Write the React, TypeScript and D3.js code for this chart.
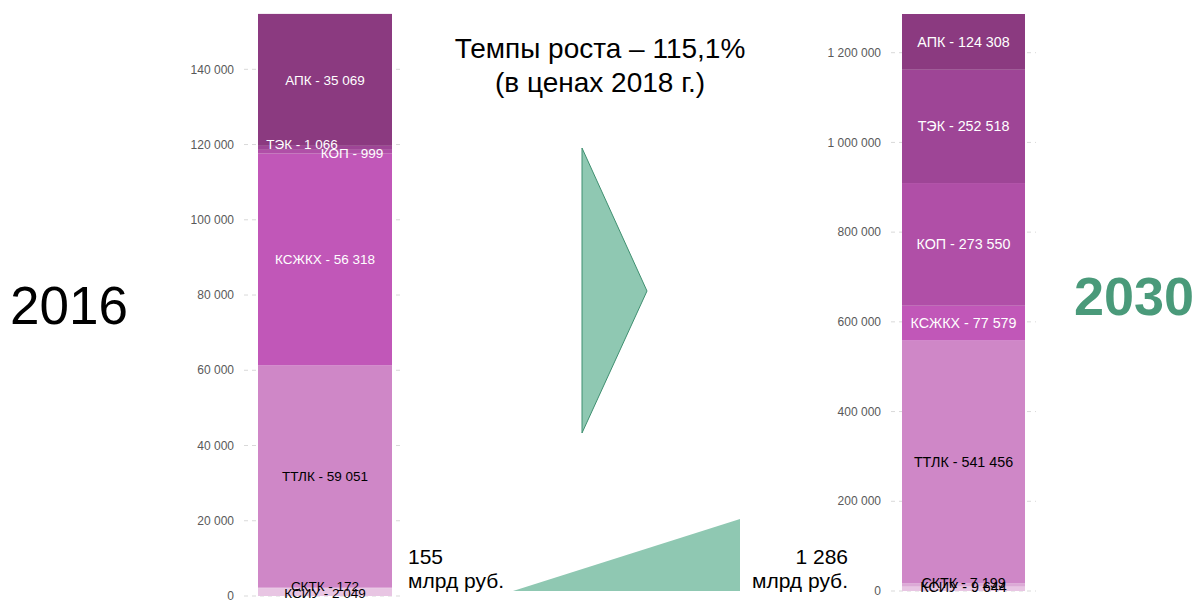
import React, { useEffect, useRef } from 'react';
import * as d3 from 'd3';

// Sector categories, stacked bottom to top
const categories = ['КСИУ', 'СКТК', 'ТТЛК', 'КСЖКХ', 'КОП', 'ТЭК', 'АПК'];
const values2016 = [2049, 172, 59051, 56318, 999, 1066, 35069];
const values2030 = [9644, 7199, 541456, 77579, 273550, 252518, 124308];
const ticks2016 = [0, 20000, 40000, 60000, 80000, 100000, 120000, 140000];
const ticks2030 = [0, 200000, 400000, 600000, 800000, 1000000, 1200000];
const total2016 = '155';
const total2030 = '1 286';
const unitLabel = 'млрд руб.';
const titleLines = ['Темпы роста – 115,1%', '(в ценах 2018 г.)'];

const colors: Record<string, string> = {
  'КСИУ': '#e8c5e3',
  'СКТК': '#dcaad6',
  'ТТЛК': '#cf87c7',
  'КСЖКХ': '#c157b8',
  'КОП': '#b04fa7',
  'ТЭК': '#9e4596',
  'АПК': '#8b3a80',
};
const darkText = new Set(['КСИУ', 'СКТК', 'ТТЛК']);

const fmt = (v: number) => d3.format(',')(v).replace(/,/g, ' ');

const App: React.FC = () => {
  const svgRef = useRef<SVGSVGElement>(null);

  useEffect(() => {
    if (!svgRef.current) return;
    d3.select(svgRef.current).selectAll('*').remove();
    const svg = d3.select(svgRef.current);
    const font = 'Liberation Sans, Arial, sans-serif';

    const drawBar = (
      values: number[],
      ticks: number[],
      yScale: d3.ScaleLinear<number, number>,
      x0: number,
      x1: number,
      gridX0: number,
      gridX1: number,
      fontSize: number,
      offsets: Record<string, [number, number]>
    ) => {
      const g = svg.append('g');
      // grid lines
      g.selectAll('line.grid')
        .data(ticks)
        .enter()
        .append('line')
        .attr('x1', gridX0)
        .attr('x2', gridX1)
        .attr('y1', d => yScale(d))
        .attr('y2', d => yScale(d))
        .attr('stroke', '#d9d9d9')
        .attr('stroke-width', 1)
        .attr('stroke-dasharray', '4,4');
      // tick labels
      g.selectAll('text.tick')
        .data(ticks)
        .enter()
        .append('text')
        .attr('x', gridX0 - 10)
        .attr('y', d => yScale(d))
        .attr('dy', '0.35em')
        .attr('text-anchor', 'end')
        .style('font-family', font)
        .style('font-size', '12px')
        .style('fill', '#595959')
        .text(d => fmt(d));

      const row: Record<string, number> = {};
      categories.forEach((c, i) => (row[c] = values[i]));
      const series = d3.stack<Record<string, number>>().keys(categories)([row]);

      g.selectAll('rect.seg')
        .data(series)
        .enter()
        .append('rect')
        .attr('x', x0)
        .attr('width', x1 - x0)
        .attr('y', d => yScale(d[0][1]))
        .attr('height', d => yScale(d[0][0]) - yScale(d[0][1]))
        .attr('fill', d => colors[d.key]);

      const cx = (x0 + x1) / 2;
      g.selectAll('text.lbl')
        .data(series)
        .enter()
        .append('text')
        .attr('x', d => cx + (offsets[d.key] ? offsets[d.key][0] : 0))
        .attr('y', d => yScale((d[0][0] + d[0][1]) / 2) + (offsets[d.key] ? offsets[d.key][1] : 0))
        .attr('dy', '0.35em')
        .attr('text-anchor', 'middle')
        .style('font-family', font)
        .style('font-size', `${fontSize}px`)
        .style('fill', d => (darkText.has(d.key) ? '#000000' : '#ffffff'))
        .text(d => `${d.key} - ${fmt(values[categories.indexOf(d.key)])}`);
    };

    const yLeft = d3.scaleLinear().domain([0, 140000]).range([596, 69.3]);
    const yRight = d3.scaleLinear().domain([0, 1200000]).range([591, 52.7]);

    drawBar(values2016, ticks2016, yLeft, 258, 392, 244, 404, 13.5, {
      'ТЭК': [-23, -4],
      'КОП': [27, 2],
      'СКТК': [0, -2],
      'КСИУ': [0, 1],
    });
    drawBar(values2030, ticks2030, yRight, 902, 1025, 891, 1036, 14.3, {
      'СКТК': [0, -2],
      'КСИУ': [0, -2],
    });

    // Year labels
    svg.append('text')
      .attr('x', 10)
      .attr('y', 324)
      .style('font-family', font)
      .style('font-size', '53px')
      .style('fill', '#000')
      .text('2016');
    svg.append('text')
      .attr('x', 1074)
      .attr('y', 315)
      .style('font-family', font)
      .style('font-size', '54px')
      .style('font-weight', 'bold')
      .style('fill', '#4a9a7a')
      .text('2030');

    // Title
    titleLines.forEach((t, i) => {
      svg.append('text')
        .attr('x', 600)
        .attr('y', 58 + i * 34)
        .attr('text-anchor', 'middle')
        .style('font-family', font)
        .style('font-size', '28px')
        .style('fill', '#000')
        .text(t);
    });

    // Arrow triangle
    svg.append('path')
      .attr('d', d3.line()([[582, 148], [647, 291], [582, 433]]) + 'Z')
      .attr('fill', '#8fc8b2')
      .attr('stroke', '#3f8f70')
      .attr('stroke-width', 1);

    // Growth wedge
    svg.append('path')
      .attr('d', d3.line()([[513, 591], [740, 519], [740, 591]]) + 'Z')
      .attr('fill', '#8fc8b2');

    // Totals
    const totals: [string, number, string][] = [
      [total2016, 408, 'start'],
      [total2030, 848, 'end'],
    ];
    totals.forEach(([v, x, anchor]) => {
      svg.append('text')
        .attr('x', x)
        .attr('y', 564)
        .attr('text-anchor', anchor)
        .style('font-family', font)
        .style('font-size', '21px')
        .style('fill', '#000')
        .text(v);
      svg.append('text')
        .attr('x', x)
        .attr('y', 588)
        .attr('text-anchor', anchor)
        .style('font-family', font)
        .style('font-size', '21px')
        .style('fill', '#000')
        .text(unitLabel);
    });
  }, []);

  return (
    <svg
      ref={svgRef}
      width={1199}
      height={601}
      style={{ position: 'absolute', left: 0, top: 0, background: '#fff' }}
    />
  );
};

export default App;
